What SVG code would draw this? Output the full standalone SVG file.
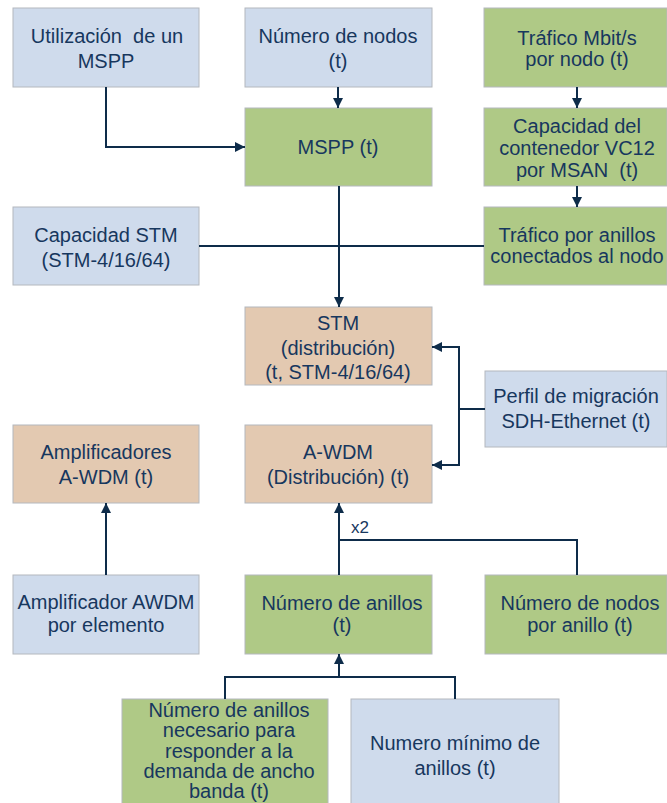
<svg xmlns="http://www.w3.org/2000/svg" width="667" height="803" viewBox="0 0 667 803">
<style>
.box{stroke:#B4B8BE;stroke-width:1}
.blue{fill:#CFDBEC}
.green{fill:#AFC986}
.tan{fill:#E3C9B1}
text{font-family:"Liberation Sans",Arial,sans-serif;font-size:20px;fill:#17375E;text-anchor:middle}
.conn path{fill:none;stroke:#0E2C4A;stroke-width:2}
</style>
<defs>
<marker id="arr" markerUnits="userSpaceOnUse" markerWidth="12" markerHeight="12" refX="10" refY="5" orient="auto">
<path d="M0,0 L10,5 L0,10 z" fill="#0E2C4A"/>
</marker>
</defs>
<rect width="667" height="803" fill="#FFFFFF"/>
<g id="util"><rect class="box blue" x="13" y="8" width="186" height="79"/><text x="107" y="43" xml:space="preserve">Utilización  de un</text><text x="106" y="68">MSPP</text></g>
<g id="nodos"><rect class="box blue" x="245" y="8" width="187" height="79"/><text x="338" y="43">Número de nodos</text><text x="338" y="68">(t)</text></g>
<g id="trafMbit"><rect class="box green" x="484" y="8" width="183" height="79"/><text x="577" y="45">Tráfico Mbit/s</text><text x="577" y="66">por nodo (t)</text></g>
<g id="mspp"><rect class="box green" x="245" y="108" width="187" height="78"/><text x="338" y="154">MSPP (t)</text></g>
<g id="capVC12"><rect class="box green" x="484" y="108" width="183" height="78"/><text x="577" y="133">Capacidad del</text><text x="577" y="155">contenedor VC12</text><text x="577" y="177" xml:space="preserve">por MSAN  (t)</text></g>
<g id="trafAnillos"><rect class="box green" x="484" y="207" width="183" height="78"/><text x="577" y="242">Tráfico por anillos</text><text x="577" y="263">conectados al nodo</text></g>
<g id="capSTM"><rect class="box blue" x="13" y="207" width="186" height="78"/><text x="106" y="242">Capacidad STM</text><text x="106" y="267">(STM-4/16/64)</text></g>
<g id="stm"><rect class="box tan" x="245" y="307" width="187" height="78"/><text x="338" y="330">STM</text><text x="338" y="355">(distribución)</text><text x="338" y="379">(t, STM-4/16/64)</text></g>
<g id="perfil"><rect class="box blue" x="485" y="371" width="182" height="76"/><text x="576" y="403">Perfil de migración</text><text x="576" y="428">SDH-Ethernet (t)</text></g>
<g id="amplif"><rect class="box tan" x="13" y="425" width="186" height="78"/><text x="106" y="459">Amplificadores</text><text x="106" y="484">A-WDM (t)</text></g>
<g id="awdm"><rect class="box tan" x="245" y="425" width="187" height="78"/><text x="338" y="459">A-WDM</text><text x="338" y="484">(Distribución) (t)</text></g>
<g id="ampAWDM"><rect class="box blue" x="13" y="575" width="186" height="79"/><text x="106" y="609">Amplificador AWDM</text><text x="106" y="632">por elemento</text></g>
<g id="numAnillos"><rect class="box green" x="245" y="575" width="187" height="79"/><text x="342" y="610">Número de anillos</text><text x="342" y="632">(t)</text></g>
<g id="nodosAnillo"><rect class="box green" x="485" y="575" width="182" height="79"/><text x="580" y="610">Número de nodos</text><text x="580" y="632">por anillo (t)</text></g>
<g id="necesario"><rect class="box green" x="122" y="699" width="206" height="112"/><text x="229" y="717">Número de anillos</text><text x="229" y="737">necesario para</text><text x="229" y="758">responder a la</text><text x="229" y="778">demanda de ancho</text><text x="229" y="798">banda (t)</text></g>
<g id="minimo"><rect class="box blue" x="351" y="699" width="208" height="112"/><text x="455" y="750">Numero mínimo de</text><text x="455" y="775">anillos (t)</text></g>
<g class="conn" id="connectors">
<path d="M106,87 V147 H245" marker-end="url(#arr)"/>
<path d="M338,87 V108" marker-end="url(#arr)"/>
<path d="M577,87 V108" marker-end="url(#arr)"/>
<path d="M577,186 V207" marker-end="url(#arr)"/>
<path d="M339,186 V307" marker-end="url(#arr)"/>
<path d="M199,246 H484"/>
<path d="M485,409 H459 V347 H432" marker-end="url(#arr)"/>
<path d="M459,409 V465 H432" marker-end="url(#arr)"/>
<path d="M106,575 V503" marker-end="url(#arr)"/>
<path d="M339,575 V503" marker-end="url(#arr)"/>
<path d="M577,575 V540 H339"/>
<path d="M225,699 V677 H455 V699"/>
<path d="M339,677 V654" marker-end="url(#arr)"/>
</g>
<text x="360" y="533" style="font-size:17px">x2</text>
</svg>
